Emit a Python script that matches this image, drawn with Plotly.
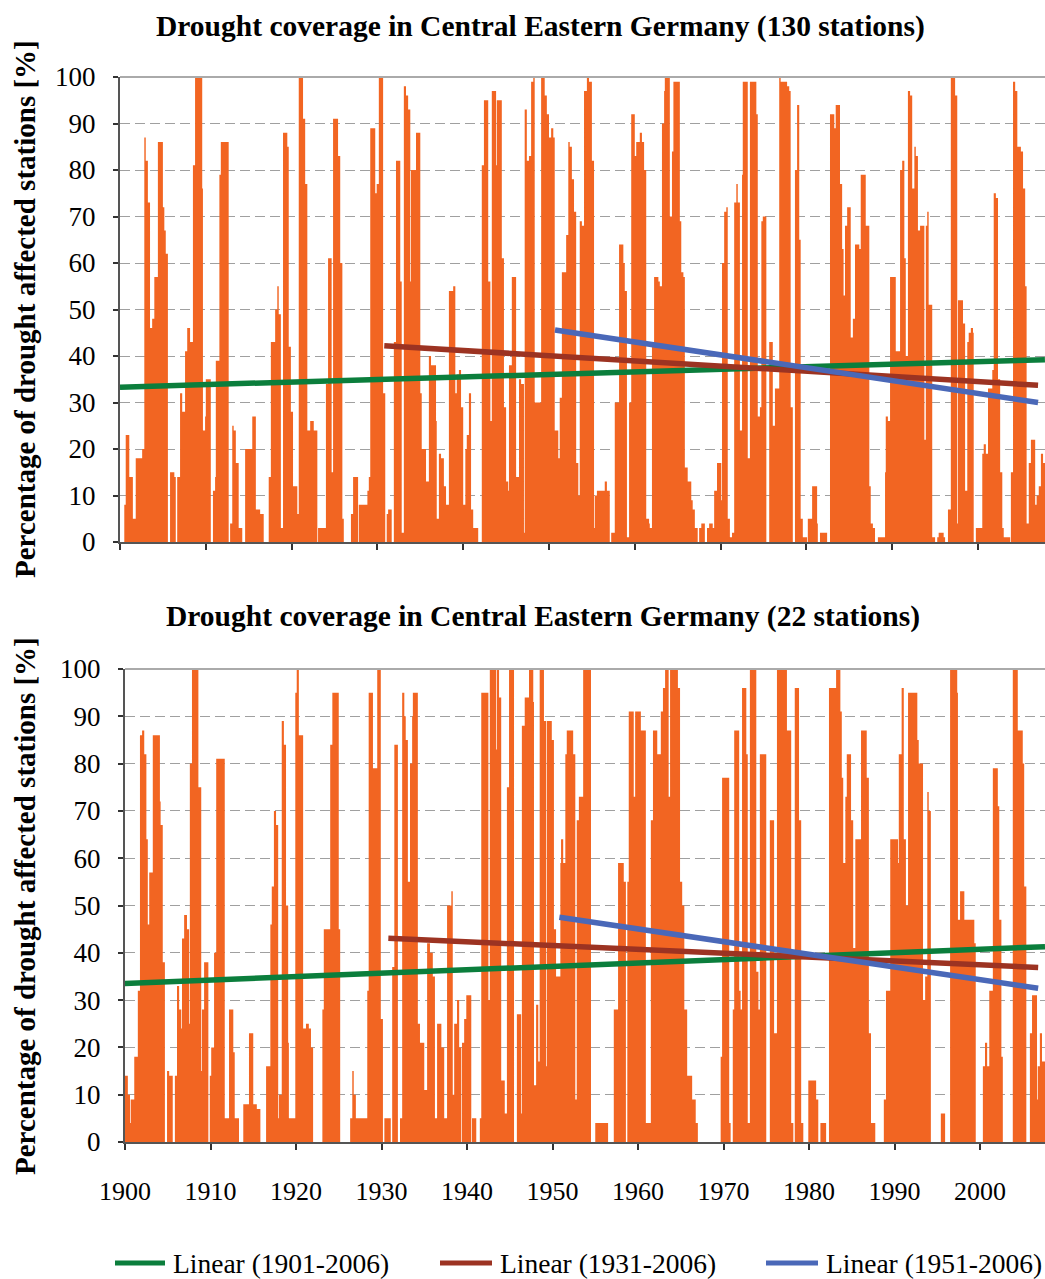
import plotly.graph_objects as go

# Monthly share of drought-affected stations [%], January 1900 onwards.
# --- 130-station network ---
s130_1900s = [
    0, 0, 0, 0, 0, 0, 8, 8, 23, 23,
    23, 23, 23, 14, 14, 14, 14, 14, 5, 5,
    5, 5, 18, 18, 18, 18, 18, 18, 18, 18,
    18, 20, 20, 20, 87, 87, 82, 82, 82, 73,
    73, 73, 46, 46, 46, 48, 48, 48, 57, 57,
    57, 57, 57, 86, 86, 86, 86, 86, 86, 86,
    72, 72, 67, 67, 62, 62, 62, 0, 0, 0,
    15, 15, 15, 15, 15, 15, 14, 14, 0, 0,
    14, 14, 14, 14, 32, 32, 32, 28, 28, 28,
    28, 41, 41, 41, 46, 46, 46, 46, 43, 43,
    43, 43, 81, 81, 81, 100, 100, 100, 100, 100,
    100, 100, 100, 100, 100, 76, 24, 24, 24, 27]
s130_1910s = [
    35, 35, 35, 35, 35, 35, 35, 0, 0, 0,
    11, 11, 11, 14, 39, 39, 39, 39, 39, 79,
    79, 86, 86, 86, 86, 86, 86, 86, 86, 86,
    86, 86, 0, 0, 4, 4, 4, 25, 25, 24,
    24, 24, 17, 17, 17, 17, 3, 3, 3, 3,
    3, 0, 0, 0, 0, 20, 20, 20, 20, 20,
    20, 20, 20, 20, 20, 27, 27, 27, 27, 27,
    7, 7, 7, 7, 7, 7, 6, 6, 6, 6,
    6, 0, 0, 0, 0, 0, 0, 0, 14, 14,
    14, 43, 43, 43, 43, 43, 43, 50, 50, 50,
    55, 55, 49, 49, 49, 3, 3, 3, 88, 88,
    88, 88, 88, 88, 85, 85, 42, 42, 42, 28]
s130_1920s = [
    28, 28, 12, 12, 12, 12, 12, 12, 6, 6,
    100, 100, 100, 100, 100, 100, 91, 91, 91, 77,
    77, 77, 24, 24, 24, 24, 26, 26, 26, 26,
    26, 24, 24, 24, 24, 24, 0, 3, 3, 3,
    3, 3, 3, 3, 3, 3, 3, 3, 34, 34,
    34, 61, 61, 61, 61, 61, 15, 15, 91, 91,
    91, 91, 91, 91, 91, 83, 83, 83, 60, 60,
    60, 5, 5, 0, 0, 0, 0, 0, 0, 0,
    0, 0, 0, 6, 6, 6, 14, 14, 14, 14,
    14, 14, 14, 0, 8, 8, 8, 8, 8, 8,
    8, 8, 8, 8, 8, 8, 11, 11, 14, 14,
    89, 89, 89, 89, 89, 89, 89, 75, 75, 77]
s130_1930s = [
    77, 77, 100, 100, 100, 100, 100, 100, 32, 32,
    32, 0, 0, 6, 6, 7, 7, 7, 7, 7,
    0, 0, 0, 43, 43, 43, 82, 82, 82, 82,
    82, 82, 56, 56, 2, 2, 2, 98, 98, 98,
    96, 96, 96, 93, 93, 93, 56, 80, 80, 80,
    80, 80, 80, 80, 88, 88, 88, 88, 88, 88,
    32, 32, 20, 20, 20, 20, 20, 20, 13, 13,
    13, 13, 40, 40, 40, 38, 38, 38, 38, 38,
    38, 38, 26, 5, 5, 5, 19, 19, 19, 18,
    18, 18, 18, 12, 12, 12, 8, 8, 8, 8,
    54, 54, 54, 54, 54, 54, 55, 55, 55, 32,
    32, 36, 36, 36, 37, 37, 37, 29, 29, 29]
s130_1940s = [
    8, 8, 8, 20, 20, 23, 23, 23, 32, 32,
    32, 7, 7, 7, 3, 3, 3, 3, 3, 3,
    3, 0, 0, 0, 0, 0, 81, 81, 81, 95,
    95, 95, 95, 95, 95, 56, 56, 56, 26, 26,
    97, 97, 97, 97, 97, 97, 81, 95, 95, 95,
    95, 95, 95, 95, 61, 61, 61, 29, 29, 29,
    13, 13, 13, 11, 38, 38, 38, 38, 57, 57,
    57, 57, 57, 57, 14, 14, 14, 14, 35, 35,
    35, 34, 34, 34, 34, 2, 93, 93, 93, 82,
    82, 82, 83, 83, 83, 99, 99, 99, 100, 100,
    30, 30, 30, 30, 30, 30, 30, 30, 30, 100,
    100, 100, 100, 100, 96, 96, 96, 92, 92, 92]
s130_1950s = [
    87, 87, 87, 89, 89, 89, 87, 87, 24, 24,
    24, 24, 24, 18, 18, 31, 31, 31, 58, 58,
    58, 58, 58, 58, 66, 66, 66, 86, 86, 85,
    85, 85, 78, 78, 78, 71, 71, 71, 17, 17,
    17, 10, 10, 69, 69, 69, 68, 68, 68, 97,
    97, 97, 97, 100, 100, 100, 99, 99, 99, 99,
    82, 82, 82, 3, 10, 10, 10, 11, 11, 11,
    11, 11, 11, 11, 11, 11, 11, 11, 13, 13,
    13, 11, 11, 11, 11, 0, 0, 2, 2, 2,
    2, 2, 30, 30, 30, 30, 30, 30, 64, 64,
    64, 64, 64, 64, 60, 60, 54, 54, 54, 1,
    1, 1, 30, 30, 30, 92, 92, 92, 92, 92]
s130_1960s = [
    83, 83, 86, 86, 86, 86, 86, 88, 88, 88,
    86, 86, 86, 80, 80, 80, 5, 5, 5, 5,
    4, 3, 3, 3, 43, 43, 43, 57, 57, 57,
    57, 57, 57, 56, 56, 55, 55, 55, 90, 90,
    90, 97, 100, 100, 100, 100, 100, 100, 100, 70,
    70, 70, 84, 84, 99, 99, 99, 99, 99, 99,
    99, 99, 99, 69, 69, 58, 58, 58, 57, 57,
    16, 16, 16, 16, 13, 13, 13, 13, 13, 9,
    9, 7, 7, 7, 3, 3, 3, 3, 0, 0,
    3, 3, 3, 4, 4, 4, 4, 4, 0, 0,
    0, 3, 3, 3, 4, 4, 4, 4, 4, 3,
    3, 11, 11, 11, 11, 17, 17, 17, 17, 17]
s130_1970s = [
    17, 9, 60, 60, 60, 71, 71, 71, 72, 72,
    5, 5, 5, 1, 1, 1, 2, 2, 2, 73,
    73, 73, 77, 77, 73, 73, 73, 24, 24, 24,
    79, 99, 99, 99, 99, 99, 99, 99, 18, 18,
    18, 99, 99, 99, 99, 99, 99, 99, 99, 99,
    92, 92, 27, 27, 27, 29, 29, 69, 69, 70,
    70, 70, 70, 70, 0, 0, 0, 0, 43, 43,
    43, 43, 43, 25, 25, 25, 33, 33, 33, 33,
    33, 33, 100, 100, 99, 99, 99, 99, 99, 99,
    99, 99, 99, 98, 98, 98, 97, 97, 29, 29,
    29, 0, 0, 0, 80, 80, 80, 94, 94, 94,
    65, 65, 5, 5, 5, 1, 1, 1, 1, 1]
s130_1980s = [
    1, 0, 5, 5, 5, 5, 5, 5, 12, 12,
    12, 12, 12, 12, 12, 4, 0, 0, 0, 2,
    2, 2, 2, 2, 2, 2, 2, 2, 2, 0,
    0, 0, 0, 92, 92, 92, 92, 92, 92, 89,
    89, 94, 94, 94, 94, 94, 94, 77, 77, 77,
    63, 63, 53, 53, 68, 68, 68, 72, 72, 72,
    72, 72, 44, 44, 44, 48, 48, 48, 64, 64,
    64, 64, 64, 64, 63, 63, 79, 79, 79, 79,
    79, 79, 79, 68, 68, 68, 68, 68, 12, 12,
    4, 4, 4, 3, 3, 3, 0, 0, 0, 0,
    1, 1, 1, 1, 1, 1, 1, 1, 1, 1,
    15, 27, 27, 27, 26, 26, 26, 57, 57, 57]
s130_1990s = [
    57, 57, 57, 57, 57, 41, 41, 41, 41, 41,
    41, 80, 80, 80, 82, 82, 82, 61, 61, 40,
    40, 40, 97, 97, 97, 96, 96, 96, 76, 76,
    76, 85, 85, 83, 83, 83, 67, 67, 67, 68,
    68, 68, 68, 68, 68, 22, 22, 68, 68, 71,
    71, 51, 51, 51, 51, 51, 1, 1, 1, 1,
    0, 0, 0, 1, 1, 2, 2, 2, 2, 2,
    2, 2, 1, 1, 0, 0, 0, 0, 7, 7,
    7, 7, 100, 100, 100, 100, 100, 100, 96, 96,
    96, 4, 52, 52, 52, 52, 52, 52, 52, 47,
    47, 47, 11, 11, 11, 43, 43, 45, 45, 45,
    46, 46, 46, 45, 0, 0, 0, 3, 3, 3]
s130_2000s = [
    3, 3, 3, 3, 3, 3, 19, 19, 21, 21,
    21, 19, 19, 19, 33, 33, 33, 33, 33, 33,
    37, 37, 75, 75, 75, 74, 74, 74, 35, 35,
    35, 15, 15, 15, 3, 3, 1, 1, 1, 1,
    1, 1, 1, 1, 1, 0, 15, 15, 15, 99,
    99, 99, 97, 97, 97, 85, 85, 85, 85, 85,
    84, 84, 84, 76, 76, 76, 55, 55, 4, 4,
    4, 17, 17, 17, 22, 22, 22, 22, 22, 22,
    8, 8, 10, 10, 10, 12, 12, 12, 19, 19,
    19, 17, 17, 17, 17, 17]

# --- 22-station network ---
s22_1900s = [
    14, 14, 14, 14, 10, 10, 10, 4, 9, 9,
    9, 9, 9, 18, 18, 18, 18, 18, 32, 32,
    32, 86, 86, 86, 87, 87, 87, 82, 82, 82,
    64, 64, 46, 46, 57, 57, 57, 57, 57, 86,
    86, 86, 86, 86, 86, 86, 86, 86, 86, 72,
    67, 67, 67, 38, 38, 38, 0, 0, 0, 15,
    15, 15, 14, 14, 14, 14, 14, 0, 0, 0,
    14, 14, 14, 33, 33, 33, 28, 28, 28, 24,
    43, 43, 43, 48, 48, 48, 48, 45, 45, 45,
    25, 80, 80, 80, 100, 100, 100, 100, 100, 100,
    100, 100, 100, 75, 75, 75, 75, 15, 28, 28,
    28, 38, 38, 38, 38, 38, 38, 0, 0, 14]
s22_1910s = [
    14, 20, 20, 20, 20, 40, 40, 40, 81, 81,
    81, 81, 81, 81, 81, 81, 81, 81, 81, 81,
    5, 5, 5, 5, 5, 5, 28, 28, 28, 28,
    28, 28, 19, 19, 5, 5, 5, 5, 5, 5,
    0, 0, 0, 0, 0, 0, 8, 8, 8, 8,
    8, 8, 8, 8, 23, 23, 23, 23, 23, 23,
    8, 8, 8, 8, 8, 7, 7, 7, 7, 7,
    0, 0, 0, 0, 0, 0, 0, 0, 16, 16,
    16, 16, 16, 16, 46, 46, 54, 54, 54, 70,
    70, 70, 67, 67, 67, 5, 10, 10, 10, 10,
    89, 89, 89, 84, 84, 84, 50, 50, 50, 21,
    5, 5, 5, 5, 5, 5, 5, 5, 5, 95]
s22_1920s = [
    95, 100, 100, 100, 86, 86, 86, 86, 86, 86,
    24, 24, 24, 24, 25, 25, 25, 25, 24, 24,
    24, 20, 20, 20, 0, 0, 0, 0, 0, 0,
    0, 0, 0, 0, 0, 0, 0, 28, 28, 45,
    45, 45, 45, 45, 45, 45, 45, 45, 84, 84,
    84, 95, 95, 95, 95, 95, 95, 95, 95, 95,
    45, 45, 0, 0, 0, 0, 0, 0, 0, 0,
    0, 0, 0, 0, 0, 0, 5, 5, 5, 15,
    15, 10, 10, 10, 5, 5, 5, 5, 5, 5,
    5, 5, 5, 5, 5, 5, 5, 5, 5, 5,
    32, 32, 95, 95, 95, 95, 95, 95, 79, 79,
    79, 79, 79, 79, 100, 100, 100, 100, 100, 26]
s22_1930s = [
    26, 26, 0, 0, 5, 5, 5, 5, 5, 5,
    5, 5, 5, 0, 0, 37, 37, 37, 84, 84,
    84, 84, 84, 0, 0, 0, 5, 5, 5, 95,
    95, 95, 90, 90, 85, 85, 85, 55, 55, 55,
    80, 80, 80, 90, 95, 95, 95, 95, 95, 95,
    95, 25, 25, 25, 21, 21, 21, 21, 21, 21,
    11, 11, 11, 11, 42, 42, 42, 42, 40, 40,
    40, 40, 35, 35, 35, 5, 5, 5, 25, 25,
    25, 25, 25, 25, 20, 20, 20, 20, 5, 5,
    5, 5, 50, 50, 50, 50, 50, 50, 53, 53,
    10, 10, 25, 25, 25, 25, 30, 30, 30, 20,
    20, 20, 0, 21, 21, 21, 26, 26, 26, 31]
s22_1940s = [
    31, 31, 31, 31, 31, 31, 0, 5, 5, 5,
    5, 5, 5, 0, 0, 0, 0, 0, 5, 5,
    95, 95, 95, 95, 95, 95, 95, 95, 95, 95,
    30, 30, 100, 100, 100, 100, 100, 100, 100, 100,
    100, 83, 100, 100, 100, 94, 94, 94, 13, 13,
    13, 13, 13, 6, 6, 6, 75, 75, 75, 100,
    100, 100, 100, 100, 100, 100, 0, 0, 0, 0,
    27, 27, 27, 27, 27, 27, 6, 88, 88, 88,
    88, 94, 94, 94, 94, 94, 94, 100, 100, 100,
    100, 100, 100, 93, 12, 12, 12, 29, 29, 29,
    17, 17, 100, 100, 100, 100, 100, 100, 89, 89,
    89, 16, 89, 89, 89, 89, 89, 89, 89, 85]
s22_1950s = [
    85, 85, 45, 45, 45, 35, 35, 35, 35, 35,
    35, 59, 64, 64, 64, 59, 59, 59, 82, 82,
    87, 87, 87, 87, 87, 87, 87, 87, 87, 82,
    82, 82, 9, 9, 68, 68, 68, 73, 73, 73,
    73, 73, 73, 100, 100, 100, 100, 100, 100, 100,
    100, 100, 100, 100, 0, 0, 0, 0, 0, 0,
    4, 4, 4, 4, 4, 4, 4, 4, 4, 4,
    4, 4, 4, 4, 4, 4, 4, 4, 0, 0,
    0, 0, 0, 0, 0, 0, 28, 28, 28, 28,
    28, 28, 59, 59, 59, 59, 59, 59, 59, 59,
    55, 55, 55, 0, 0, 55, 55, 91, 91, 91,
    91, 91, 91, 91, 73, 73, 91, 91, 91, 91]
s22_1960s = [
    91, 91, 91, 91, 87, 87, 87, 87, 87, 87,
    87, 4, 4, 4, 4, 4, 4, 4, 68, 68,
    68, 87, 87, 87, 87, 87, 87, 82, 82, 82,
    82, 82, 91, 91, 91, 96, 96, 96, 100, 100,
    100, 100, 100, 73, 73, 100, 100, 100, 100, 100,
    100, 100, 100, 100, 100, 100, 96, 96, 96, 55,
    55, 55, 50, 50, 50, 28, 28, 28, 28, 14,
    14, 14, 14, 14, 14, 14, 9, 9, 9, 9,
    9, 4, 4, 4, 0, 0, 0, 0, 0, 0,
    0, 0, 0, 0, 0, 0, 0, 0, 0, 0,
    0, 0, 0, 0, 0, 0, 0, 0, 0, 0,
    0, 0, 0, 0, 0, 0, 18, 18, 77, 77]
s22_1970s = [
    77, 77, 77, 77, 77, 77, 77, 77, 4, 4,
    0, 0, 0, 28, 28, 87, 87, 87, 87, 87,
    87, 87, 32, 32, 28, 28, 96, 96, 96, 96,
    96, 96, 82, 82, 4, 4, 4, 100, 100, 100,
    100, 100, 100, 100, 100, 100, 36, 36, 36, 28,
    28, 82, 82, 82, 82, 82, 82, 82, 82, 82,
    0, 0, 0, 0, 0, 68, 68, 68, 68, 68,
    68, 23, 23, 23, 23, 100, 100, 100, 100, 100,
    100, 100, 100, 100, 100, 100, 100, 100, 100, 87,
    87, 87, 87, 87, 87, 4, 4, 4, 0, 0,
    96, 96, 96, 96, 96, 96, 68, 68, 68, 4,
    4, 4, 0, 0, 0, 0, 0, 0, 0, 13]
s22_1980s = [
    13, 13, 13, 13, 13, 13, 13, 13, 13, 13,
    9, 9, 9, 0, 0, 0, 4, 4, 4, 4,
    4, 4, 4, 4, 0, 0, 0, 0, 96, 96,
    96, 96, 96, 96, 96, 96, 96, 96, 100, 100,
    100, 100, 100, 100, 91, 91, 77, 77, 59, 59,
    59, 73, 73, 82, 82, 82, 82, 82, 82, 68,
    68, 68, 41, 41, 41, 64, 64, 64, 64, 64,
    64, 64, 64, 87, 87, 87, 87, 87, 87, 87,
    87, 77, 77, 77, 23, 23, 23, 4, 4, 4,
    4, 4, 4, 0, 0, 0, 0, 0, 0, 0,
    0, 0, 0, 0, 0, 9, 9, 9, 32, 32,
    32, 32, 32, 32, 64, 64, 64, 64, 64, 64]
s22_1990s = [
    64, 64, 64, 64, 64, 59, 82, 82, 82, 82,
    96, 96, 96, 64, 64, 64, 50, 50, 50, 95,
    95, 95, 95, 95, 95, 95, 95, 95, 95, 95,
    95, 95, 85, 85, 80, 80, 80, 80, 80, 80,
    30, 30, 30, 35, 35, 35, 74, 74, 70, 70,
    70, 0, 0, 0, 0, 0, 0, 0, 0, 0,
    0, 0, 0, 0, 0, 6, 6, 6, 6, 6,
    6, 0, 0, 0, 0, 0, 0, 0, 100, 100,
    100, 100, 100, 100, 100, 100, 100, 100, 95, 47,
    47, 47, 53, 53, 53, 53, 53, 53, 47, 47,
    47, 47, 47, 47, 47, 47, 47, 47, 47, 47,
    47, 47, 42, 42, 0, 0, 0, 0, 0, 0]
s22_2000s = [
    0, 0, 0, 0, 16, 16, 16, 21, 21, 21,
    16, 16, 16, 32, 32, 32, 32, 32, 79, 79,
    79, 79, 79, 79, 79, 71, 71, 47, 47, 47,
    18, 18, 0, 0, 0, 0, 0, 0, 0, 0,
    0, 0, 0, 0, 0, 0, 100, 100, 100, 100,
    100, 100, 100, 87, 87, 87, 87, 87, 87, 87,
    80, 80, 54, 54, 54, 0, 0, 0, 0, 0,
    23, 23, 23, 31, 31, 31, 31, 31, 31, 31,
    9, 16, 16, 16, 23, 23, 23, 17, 17, 17,
    17, 17, 17, 17, 17, 17]

# Linear trends: (start year, end year) and (value at start, value at end)
trend_names = ["Linear (1901-2006)", "Linear (1931-2006)", "Linear (1951-2006)"]
trend130_years = [(1900.0, 2007.8), (1930.8, 2007.0), (1950.7, 2007.0)]
trend130_values = [(33.3, 39.2), (42.2, 33.7), (45.6, 30.0)]
trend22_years = [(1899.9, 2007.6), (1930.8, 2006.8), (1950.8, 2006.8)]
trend22_values = [(33.5, 41.3), (43.1, 36.9), (47.5, 32.5)]

year_ticks = list(range(1900, 2001, 10))
pct_ticks = list(range(0, 101, 10))

ORANGE = "#F26522"
TREND_COLORS = ["#0B7E3C", "#9C3322", "#4A68B8"]
SERIF = "Liberation Serif"
W, H = 1045, 1279

decades130 = [s130_1900s, s130_1910s, s130_1920s, s130_1930s, s130_1940s, s130_1950s,
              s130_1960s, s130_1970s, s130_1980s, s130_1990s, s130_2000s]
decades22 = [s22_1900s, s22_1910s, s22_1920s, s22_1930s, s22_1940s, s22_1950s,
             s22_1960s, s22_1970s, s22_1980s, s22_1990s, s22_2000s]


def monthly(decades):
    vals = []
    for d in decades:
        vals.extend(d)
    xs = [1900 + i / 12 for i in range(len(vals))]
    # closing point so the last month keeps its full width in the step area
    return xs + [xs[-1] + 1 / 12], vals + [vals[-1]]


fig = go.Figure()

panels = [
    (decades130, trend130_years, trend130_values, "x", "y"),
    (decades22, trend22_years, trend22_values, "x2", "y2"),
]
for decades, tyears, tvals, xa, ya in panels:
    xs, ys = monthly(decades)
    fig.add_trace(go.Scatter(
        x=xs, y=ys, xaxis=xa, yaxis=ya, mode="lines", line_shape="hv",
        line=dict(width=0, color=ORANGE), fill="tozeroy", fillcolor=ORANGE,
        showlegend=False, hoverinfo="skip"))
    for name, (x0, x1), (v0, v1), col in zip(trend_names, tyears, tvals, TREND_COLORS):
        fig.add_trace(go.Scatter(
            x=[x0, x1], y=[v0, v1], xaxis=xa, yaxis=ya, mode="lines",
            line=dict(color=col, width=5.5), name=name, showlegend=False))

tick_font = dict(family=SERIF, size=27, color="#000")
common_x = dict(tickvals=year_ticks, ticks="outside", ticklen=6, tickwidth=1.5,
                tickcolor="#333", showgrid=False, zeroline=False, showline=True,
                linecolor="#555", linewidth=2,
                tickfont=dict(family=SERIF, size=26, color="#000"))
common_y = dict(range=[0, 100], tickvals=pct_ticks, ticks="outside", ticklen=5,
                tickwidth=1.5, tickcolor="#333", showgrid=True, gridcolor="#A0A0A0",
                griddash="10px,5px", gridwidth=1, zeroline=False, showline=True,
                linecolor="#555", linewidth=2, tickfont=tick_font,
                ticklabelstandoff=12, automargin=False)

fig.update_layout(
    width=W, height=H, margin=dict(l=0, r=0, t=0, b=0, autoexpand=False),
    paper_bgcolor="white", plot_bgcolor="white", showlegend=False,
    xaxis=dict(domain=[120 / W, 1], range=[1900, 2007.81], anchor="y",
               showticklabels=False, automargin=False, **common_x),
    yaxis=dict(domain=[1 - 542 / H, 1 - 77 / H], anchor="x", **common_y),
    xaxis2=dict(domain=[125 / W, 1], range=[1900, 2007.6], anchor="y2",
                ticklabelstandoff=19, automargin=False, **common_x),
    yaxis2=dict(domain=[1 - 1142 / H, 1 - 669 / H], anchor="x2", **common_y),
)

# light frame along the top of each plot area
for xd0, ytop in [(120 / W, 1 - 77 / H), (125 / W, 1 - 669 / H)]:
    fig.add_shape(type="line", xref="paper", yref="paper", x0=xd0, x1=1,
                  y0=ytop, y1=ytop, line=dict(color="#AAAAAA", width=2))

# legend row below the lower panel: line sample plus label for each trend
legend_y = 1 - 1263 / H
legend_line_x = [(115, 165), (440, 492), (766, 818)]
for name, col, (lx0, lx1) in zip(trend_names, TREND_COLORS, legend_line_x):
    fig.add_shape(type="line", xref="paper", yref="paper", x0=lx0 / W, x1=lx1 / W,
                  y0=legend_y, y1=legend_y, line=dict(color=col, width=5))
    fig.add_annotation(text=name, xref="paper", yref="paper", x=(lx1 + 6) / W,
                       y=legend_y, xanchor="left", yanchor="middle", showarrow=False,
                       font=dict(family=SERIF, size=27.5, color="#000"))

title_font = dict(family=SERIF, size=29.5, color="#000")
fig.add_annotation(text="<b>Drought coverage in Central Eastern Germany (130 stations)</b>",
                   xref="paper", yref="paper", x=540 / W, y=1 - 27 / H,
                   xanchor="center", yanchor="middle", showarrow=False, font=title_font)
fig.add_annotation(text="<b>Drought coverage in Central Eastern Germany (22 stations)</b>",
                   xref="paper", yref="paper", x=543 / W, y=1 - 617 / H,
                   xanchor="center", yanchor="middle", showarrow=False, font=title_font)
for yc in [309, 906]:
    fig.add_annotation(text="<b>Percentage of drought affected stations [%]</b>",
                       xref="paper", yref="paper", x=25 / W, y=1 - yc / H,
                       xanchor="center", yanchor="middle", textangle=-90,
                       showarrow=False, font=dict(family=SERIF, size=29, color="#000"))

fig.write_html("out.html")
